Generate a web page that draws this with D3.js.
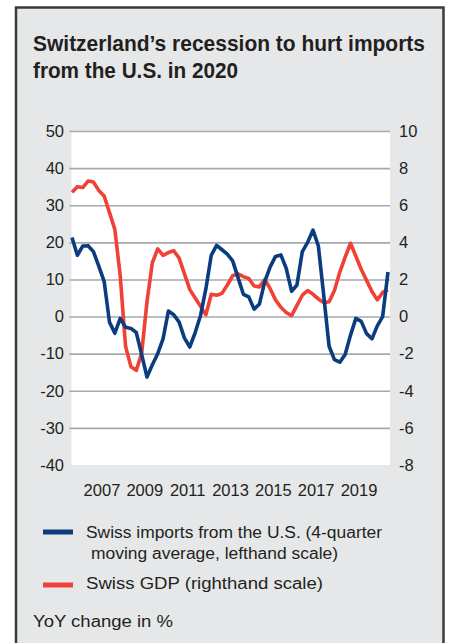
<!DOCTYPE html>
<html>
<head>
<meta charset="utf-8">
<script src="https://cdn.jsdelivr.net/npm/d3@7"></script>
<style>
  body { margin: 0; background: #fff; }
  svg { display: block; font-family: "Liberation Sans", Arial, sans-serif; }
</style>
</head>
<body>
<div id="chart"></div>
<script>
// quarterly, 2006Q1 .. 2020Q4
var quarters = [
  "2006Q1","2006Q2","2006Q3","2006Q4","2007Q1","2007Q2","2007Q3","2007Q4",
  "2008Q1","2008Q2","2008Q3","2008Q4","2009Q1","2009Q2","2009Q3","2009Q4",
  "2010Q1","2010Q2","2010Q3","2010Q4","2011Q1","2011Q2","2011Q3","2011Q4",
  "2012Q1","2012Q2","2012Q3","2012Q4","2013Q1","2013Q2","2013Q3","2013Q4",
  "2014Q1","2014Q2","2014Q3","2014Q4","2015Q1","2015Q2","2015Q3","2015Q4",
  "2016Q1","2016Q2","2016Q3","2016Q4","2017Q1","2017Q2","2017Q3","2017Q4",
  "2018Q1","2018Q2","2018Q3","2018Q4","2019Q1","2019Q2","2019Q3","2019Q4",
  "2020Q1","2020Q2","2020Q3","2020Q4"
];
// Swiss imports from the U.S., 4q moving avg (left scale)
var imports = [
  21.3, 16.5, 19, 19.1, 17.5, 13.6, 9.5, -1.5,
  -4.5, -0.5, -2.9, -3.2, -4.3, -10.2, -16.3, -13,
  -10, -6, 1.5, 0.5, -1.5, -5.8, -8.2, -4.3,
  0.3, 7.5, 16.5, 19.2, 18, 16.8, 15, 10.5,
  6, 5.3, 2, 3.4, 9.5, 13.4, 16.2, 16.6,
  13, 6.8, 8.5, 17.5, 20, 23.3, 19, 5.7,
  -8, -11.6, -12.3, -10.2, -5, -0.5, -1.3, -4.6,
  -6, -2.5, 0, 12
];
// Swiss GDP (right scale)
var gdp = [
  6.7, 7.0, 6.95, 7.3, 7.25, 6.8, 6.5, 5.6,
  4.7, 2.2, -1.6, -2.7, -2.9, -2.0, 0.8, 2.9,
  3.65, 3.3, 3.45, 3.55, 3.15, 2.3, 1.45, 1.0,
  0.55, 0.1, 1.2, 1.15, 1.25, 1.7, 2.2, 2.3,
  2.15, 2.05, 1.65, 1.6, 2.0, 1.5, 0.9, 0.5,
  0.22, 0.05, 0.6, 1.15, 1.4, 1.2, 0.95, 0.75,
  0.8, 1.4, 2.4, 3.2, 3.95, 3.25, 2.55, 1.95,
  1.35, 0.9, 1.3, 1.45
];
var leftTicks = [50, 40, 30, 20, 10, 0, -10, -20, -30, -40];
var rightTicks = [10, 8, 6, 4, 2, 0, -2, -4, -6, -8];
var yearLabels = ["2007", "2009", "2011", "2013", "2015", "2017", "2019"];

var W = 451, H = 643;
var plot = { left: 71.5, right: 390, top: 131, bottom: 465 };

function qToNum(q) {
  return +q.slice(0, 4) + (+q.slice(5) - 0.5) / 4;
}
// plain hyphen for negatives, like the original
function plain(d) { return String(d); }

var svg = d3.select('#chart').append('svg')
    .attr('width', W)
    .attr('height', H);

// panel
svg.append('rect')
    .attr('x', 16).attr('y', 7.5)
    .attr('width', 427.5).attr('height', H + 10)
    .attr('fill', '#e6e7e8')
    .attr('stroke', '#3b3b3b')
    .attr('stroke-width', 2.5);

// title
var title = svg.append('g')
    .attr('fill', '#231f20')
    .style('font-family', '"Liberation Sans Narrow", "Liberation Sans", Arial, sans-serif')
    .style('font-weight', 'bold')
    .style('font-size', '22px');
title.append('text').attr('x', 33).attr('y', 50.5)
    .attr('textLength', 392).attr('lengthAdjust', 'spacingAndGlyphs')
    .text('Switzerland\u2019s recession to hurt imports');
title.append('text').attr('x', 33).attr('y', 77.5)
    .attr('textLength', 205).attr('lengthAdjust', 'spacingAndGlyphs')
    .text('from the U.S. in 2020');

var x = d3.scaleLinear()
    .domain([qToNum(quarters[0]), qToNum(quarters[quarters.length - 1])])
    .range([plot.left + 0.5, plot.right - 2]);
var yL = d3.scaleLinear().domain([-40, 50]).range([plot.bottom, plot.top]);
var yR = d3.scaleLinear().domain([-8, 10]).range([plot.bottom, plot.top]);

svg.append('rect')
    .attr('x', plot.left).attr('y', plot.top)
    .attr('width', plot.right - plot.left)
    .attr('height', plot.bottom - plot.top)
    .attr('fill', '#fff');

// gridlines
svg.append('g')
    .attr('class', 'grid')
    .attr('transform', 'translate(' + 69.5 + ',0)')
    .call(d3.axisRight(yL)
        .tickValues(leftTicks.filter(function (d) { return d > -40; }))
        .tickSize(plot.right - 69.5)
        .tickFormat(''))
    .call(function (g) {
        g.select('.domain').remove();
        g.selectAll('line').attr('stroke', '#a7a9ac').attr('stroke-width', 1.6);
    });

function styleLabels(g) {
    g.select('.domain').remove();
    g.selectAll('text')
        .attr('fill', '#231f20')
        .style('font-size', '16.5px')
        .style('font-family', '"Liberation Sans", Arial, sans-serif');
}

// left axis labels
svg.append('g')
    .attr('transform', 'translate(' + 64 + ',0)')
    .call(d3.axisLeft(yL).tickValues(leftTicks).tickFormat(plain).tickSize(0).tickPadding(0))
    .call(styleLabels);

// right axis labels
svg.append('g')
    .attr('transform', 'translate(' + 399 + ',0)')
    .call(d3.axisRight(yR).tickValues(rightTicks).tickFormat(plain).tickSize(0).tickPadding(0))
    .call(styleLabels);

// year labels, centred on each year
svg.append('g')
    .attr('transform', 'translate(0,' + 484 + ')')
    .call(d3.axisBottom(x)
        .tickValues(yearLabels.map(function (d) { return +d + 0.5; }))
        .tickFormat(function (d, i) { return yearLabels[i]; })
        .tickSize(0).tickPadding(0))
    .call(styleLabels);

var blue = '#0a3c7f', red = '#ef4136';

var lineL = d3.line()
    .x(function (d, i) { return x(qToNum(quarters[i])); })
    .y(function (d) { return yL(d); });
var lineR = d3.line()
    .x(function (d, i) { return x(qToNum(quarters[i])); })
    .y(function (d) { return yR(d); });

svg.append('path')
    .datum(gdp)
    .attr('d', lineR)
    .attr('fill', 'none')
    .attr('stroke', red)
    .attr('stroke-width', 3.6)
    .attr('stroke-linejoin', 'round');

svg.append('path')
    .datum(imports)
    .attr('d', lineL)
    .attr('fill', 'none')
    .attr('stroke', blue)
    .attr('stroke-width', 3.6)
    .attr('stroke-linejoin', 'round');

// legend
var legend = svg.append('g').style('font-size', '16px').attr('fill', '#231f20');
legend.append('rect').attr('x', 43).attr('y', 529.5).attr('width', 30).attr('height', 5).attr('fill', blue);
legend.append('rect').attr('x', 43).attr('y', 582.5).attr('width', 30).attr('height', 5).attr('fill', red);
legend.append('text').attr('x', 86).attr('y', 538)
    .attr('textLength', 296).attr('lengthAdjust', 'spacingAndGlyphs')
    .text('Swiss imports from the U.S. (4-quarter');
legend.append('text').attr('x', 91).attr('y', 559)
    .attr('textLength', 247).attr('lengthAdjust', 'spacingAndGlyphs')
    .text('moving average, lefthand scale)');
legend.append('text').attr('x', 86).attr('y', 589)
    .attr('textLength', 237).attr('lengthAdjust', 'spacingAndGlyphs')
    .text('Swiss GDP (righthand scale)');
legend.append('text').attr('x', 33).attr('y', 627)
    .attr('textLength', 140).attr('lengthAdjust', 'spacingAndGlyphs')
    .text('YoY change in %');
</script>
</body>
</html>
